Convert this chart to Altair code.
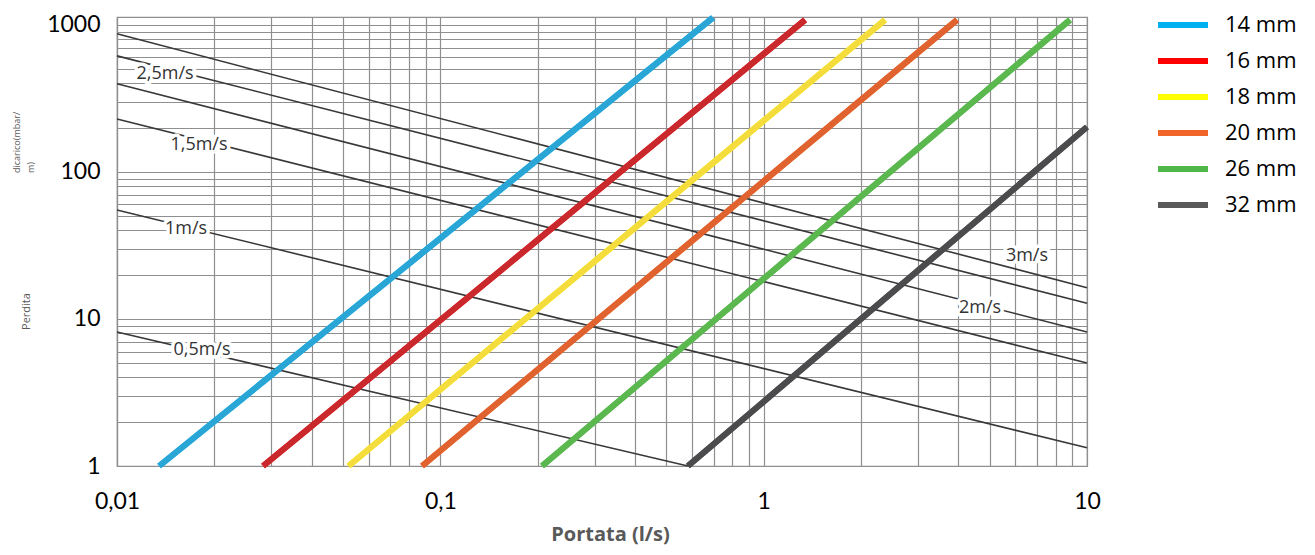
import altair as alt
import pandas as pd

# ---------------- data ----------------
# pipe diameters (thick coloured lines): start / end points (Portata l/s, Perdita mbar/m)
diameters = ["14 mm", "16 mm", "18 mm", "20 mm", "26 mm", "32 mm"]
legend_colors = ["#00B0F0", "#FF0000", "#FFFF00", "#F26529", "#4EB748", "#595959"]
line_colors = ["#2AA6D6", "#C9282D", "#F3DC3C", "#E0622F", "#5AB84F", "#4B4B4D"]
pipe_q_start = [0.0135, 0.0283, 0.052, 0.0878, 0.2063, 0.583]
pipe_j_start = [1, 1, 1, 1, 1, 1]
pipe_q_end = [0.697, 1.343, 2.373, 3.963, 8.86, 10]
pipe_j_end = [1120, 1080, 1080, 1080, 1080, 202]

# velocity lines (thin dark lines)
velocities = ["3m/s", "2,5m/s", "2m/s", "1,5m/s", "1m/s", "0,5m/s"]
vel_q_start = [0.01, 0.01, 0.01, 0.01, 0.01, 0.01]
vel_j_start = [868, 615, 397, 229, 55.1, 8.16]
vel_q_end = [10, 10, 10, 10, 10, 0.583]
vel_j_end = [16.3, 12.8, 8.16, 5.02, 1.33, 1]

# velocity labels
vlabel_text = ["2,5m/s", "1,5m/s", "1m/s", "0,5m/s", "3m/s", "2m/s"]
vlabel_q = [0.01408, 0.01793, 0.01635, 0.01832, 6.52, 4.67]
vlabel_j = [464, 152.7, 40.9, 6.15, 26.8, 11.9]

# axes
x_grid = [0.01, 0.02, 0.03, 0.04, 0.05, 0.06, 0.07, 0.08, 0.09,
          0.1, 0.2, 0.3, 0.4, 0.5, 0.6, 0.7, 0.8, 0.9,
          1, 2, 3, 4, 5, 6, 7, 8, 9, 10]
x_major = [0.01, 0.1, 1, 10]
x_major_labels = ["0,01", "0,1", "1", "10"]
y_grid = [1, 2, 3, 4, 5, 6, 7, 8, 9,
          10, 20, 30, 40, 50, 60, 70, 80, 90,
          100, 200, 300, 400, 500, 600, 700, 800, 900, 1000]
y_major = [1, 10, 100, 1000]
y_major_labels = ["1", "10", "100", "1000"]
x_title = "Portata (l/s)"
y_title = "Perdita"
y_title_extra = "dicarico(mbar/\nm)"

# ---------------- tables ----------------
pipe_rows = []
for i, d in enumerate(diameters):
    pipe_rows.append({"diam": d, "q": pipe_q_start[i], "j": pipe_j_start[i], "pt": 0})
    pipe_rows.append({"diam": d, "q": pipe_q_end[i], "j": pipe_j_end[i], "pt": 1})
pipe_df = pd.DataFrame(pipe_rows)

vel_rows = []
for i, v in enumerate(velocities):
    vel_rows.append({"vel": v, "q": vel_q_start[i], "j": vel_j_start[i], "pt": 0})
    vel_rows.append({"vel": v, "q": vel_q_end[i], "j": vel_j_end[i], "pt": 1})
vel_df = pd.DataFrame(vel_rows)

lab_df = pd.DataFrame({"txt": vlabel_text, "q": vlabel_q, "j": vlabel_j})


def label_expr(vals, labels):
    parts = " : ".join(f"datum.value == {v} ? '{l}'" for v, l in zip(vals, labels))
    return parts + " : ''"


GRID = "#8f8f8f"
xs = alt.Scale(type="log", domain=[0.01, 10], nice=False)
ys = alt.Scale(type="log", domain=[1, 1130], nice=False)

x_axis = alt.Axis(
    values=x_grid, labelExpr=label_expr(x_major, x_major_labels),
    grid=True, gridColor=GRID, gridWidth=1.2, ticks=False, tickSize=0,
    domainColor=GRID, domainWidth=1.2,
    labelFont="Lato", labelFontSize=23, labelColor="black", labelPadding=24,
    labelFlush=False, labelOverlap=False,
    title=x_title, titleFont="Open Sans", titleFontSize=20, titleFontWeight="bold",
    titleColor="#595959", titleX=493, titleY=68, titleBaseline="middle", titleAlign="center",
)
y_axis = alt.Axis(
    values=y_grid, labelExpr=label_expr(y_major, y_major_labels),
    grid=True, gridColor=GRID, gridWidth=1.2, ticks=False, tickSize=0,
    domainColor=GRID, domainWidth=1.2,
    labelFont="Lato", labelFontSize=23, labelColor="black", labelPadding=17,
    labelOverlap=False, labelFlush=False,
    title=y_title, titleFont="Open Sans", titleFontSize=11, titleFontWeight="normal",
    titleColor="#595959", titleX=-91, titleY=294, titleAngle=270,
    titleBaseline="middle", titleAlign="center",
)

X = alt.X("q:Q", scale=xs, axis=x_axis)
Y = alt.Y("j:Q", scale=ys, axis=y_axis)

legend_layer = alt.Chart(pipe_df).mark_line(strokeWidth=6, strokeCap="butt").encode(
    x=X, y=Y, order="pt:Q",
    color=alt.Color(
        "diam:N",
        scale=alt.Scale(domain=diameters, range=legend_colors),
        legend=alt.Legend(
            title=None, orient="none", legendX=1041, legendY=-5, direction="vertical",
            symbolType="M-2.5,0H2.5", symbolSize=400, symbolStrokeWidth=6,
            symbolOffset=12, labelOffset=29, rowPadding=11, padding=0,
            labelFont="Open Sans", labelFontSize=22, labelColor="black",
        ),
    ),
)

vel_layer = alt.Chart(vel_df).mark_line(strokeWidth=1.6, color="#383838").encode(
    x=X, y=Y, detail="vel:N", order="pt:Q"
)

pipe_layer = alt.Chart(pipe_df).mark_line(strokeWidth=6, strokeCap="butt").encode(
    x=X, y=Y, order="pt:Q",
    stroke=alt.Stroke("diam:N", scale=alt.Scale(domain=diameters, range=line_colors), legend=None),
)

halo = alt.Chart(lab_df).mark_text(
    font="Open Sans", fontSize=18, fill="white", stroke="white", strokeWidth=7,
    strokeJoin="round", baseline="middle", align="center",
).encode(x=X, y=Y, text="txt:N")

labels = alt.Chart(lab_df).mark_text(
    font="Open Sans", fontSize=18, color="#333333", baseline="middle", align="center",
).encode(x=X, y=Y, text="txt:N")

extra = alt.Chart(pd.DataFrame({"t": [y_title_extra]})).mark_text(
    angle=270, align="left", baseline="middle", lineBreak="\n", fontSize=9,
    font="Open Sans", color="#595959", lineHeight=14,
).encode(x=alt.value(-100), y=alt.value(156), text="t:N")

chart = alt.layer(legend_layer, vel_layer, pipe_layer, halo, labels, extra).properties(
    width=970, height=449,
    autosize=alt.AutoSizeParams(type="none"),
    padding={"left": 109, "top": 9, "right": 220, "bottom": 81},
).configure_view(stroke=GRID, strokeWidth=1.2)

chart.save("out.html", embed_options={"renderer": "svg", "actions": False})
